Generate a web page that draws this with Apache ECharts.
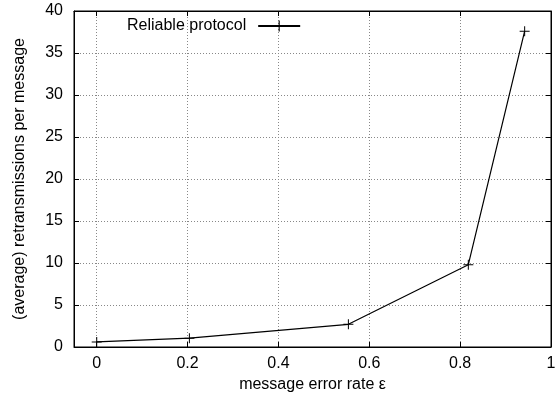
<!DOCTYPE html>
<html>
<head>
<meta charset="utf-8">
<script src="https://cdn.jsdelivr.net/npm/echarts@6/dist/echarts.min.js"></script>
<style>html,body{margin:0;padding:0;background:#fff;}#c{width:556px;height:400px;}</style>
</head>
<body>
<div id="c"></div>
<script>
const errorRates = [0, 0.204, 0.554, 0.818, 0.942];
const retransmissions = [0.6, 1.05, 2.7, 9.8, 37.6];
const xTicks = [0, 0.2, 0.4, 0.6, 0.8, 1];
const yTicks = [0, 5, 10, 15, 20, 25, 30, 35, 40];
const seriesName = 'Reliable protocol';

const X_MIN = -0.05, X_MAX = 1, Y_MIN = 0, Y_MAX = 40;
const FONT = '"Liberation Sans", Arial, Helvetica, sans-serif';
const chart = echarts.init(document.getElementById('c'), null, {renderer: 'canvas'});
const gridLine = () => ({show: true, lineStyle: {color: '#888', type: [1, 2], width: 1}});
const plus = 'path://M0,4.5L10,4.5L10,5.5L0,5.5Z M4.5,0L5.5,0L5.5,10L4.5,10Z';
const txt = {fontFamily: FONT, fontSize: 16, color: '#000'};
const points = errorRates.map((x, i) => [x, retransmissions[i]]);
const blank = () => '';
// mirror axes are shifted so that their zero lies on the far edge (top / right)
const mirrorX = points.map(p => [p[0] - X_MAX, p[1] - Y_MAX]);

chart.setOption({
  animation: false,
  textStyle: {fontFamily: FONT},
  grid: {left: 74, right: 5, top: 11, bottom: 53, outerBoundsMode: 'none', containLabel: false,
         show: true, borderColor: '#000', borderWidth: 1},
  legend: {
    left: 122, top: 13, align: 'right', itemWidth: 42, itemHeight: 14, itemGap: 10,
    textStyle: Object.assign({padding: [0, 7, 0, 0]}, txt),
    data: [seriesName]
  },
  xAxis: [
    {
      type: 'value', min: X_MIN, max: X_MAX, position: 'bottom',
      axisLine: {show: true, onZero: false, lineStyle: {color: '#000', width: 1}},
      name: 'message error rate ε', nameLocation: 'middle', nameGap: 28,
      nameTextStyle: txt,
      axisTick: {show: true, inside: true, length: 5, customValues: xTicks, lineStyle: {color: '#000'}},
      axisLabel: Object.assign({customValues: xTicks, margin: 9}, txt),
      splitLine: gridLine()
    },
    {
      type: 'value', min: X_MIN - X_MAX, max: 0, position: 'top',
      axisLine: {show: true, onZero: true, onZeroAxisIndex: 1, lineStyle: {color: '#000', width: 1}},
      axisTick: {show: true, inside: true, length: 5, customValues: xTicks.map(v => v - X_MAX), lineStyle: {color: '#000'}},
      axisLabel: {show: true, customValues: xTicks.map(v => v - X_MAX), formatter: blank},
      splitLine: {show: false}
    }
  ],
  yAxis: [
    {
      type: 'value', min: Y_MIN, max: Y_MAX, interval: 5, position: 'left',
      axisLine: {show: true, onZero: false, lineStyle: {color: '#000', width: 1}},
      name: '(average) retransmissions per message', nameLocation: 'middle', nameGap: 46,
      nameTextStyle: txt,
      axisTick: {show: true, inside: true, length: 5, lineStyle: {color: '#000'}},
      axisLabel: Object.assign({margin: 11}, txt),
      splitLine: gridLine()
    },
    {
      type: 'value', min: Y_MIN - Y_MAX, max: 0, interval: 5, position: 'right',
      axisLine: {show: true, onZero: true, onZeroAxisIndex: 1, lineStyle: {color: '#000', width: 1}},
      axisTick: {show: true, inside: true, length: 5, lineStyle: {color: '#000'}},
      axisLabel: {show: true, formatter: blank}, splitLine: {show: false}
    }
  ],
  series: [{
    name: seriesName,
    type: 'line',
    xAxisIndex: 0, yAxisIndex: 0,
    data: points,
    symbol: plus, symbolSize: 10, showSymbol: true,
    lineStyle: {color: '#000', width: 1.2},
    itemStyle: {color: '#000'},
    emphasis: {disabled: true}
  }, {
    name: 'mirror',
    type: 'line',
    xAxisIndex: 1, yAxisIndex: 1,
    data: mirrorX,
    symbol: 'none',
    lineStyle: {opacity: 0},
    silent: true
  }]
});
</script>
</body>
</html>
